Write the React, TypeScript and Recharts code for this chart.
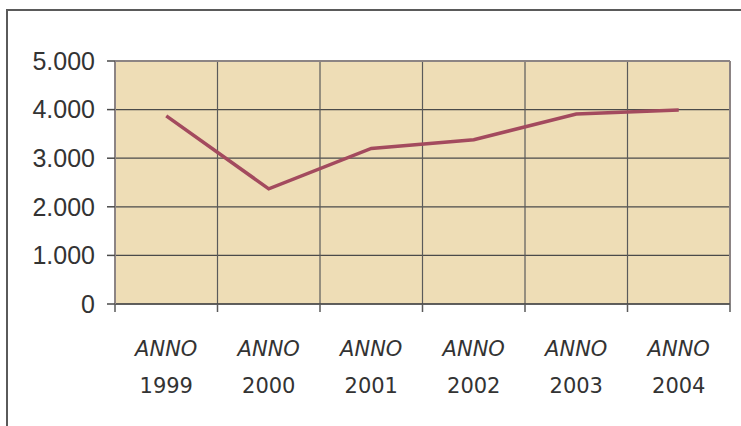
import React from "react";
import { ComposedChart, Line, XAxis, YAxis, CartesianGrid, ReferenceLine } from "recharts";

const categories = ["ANNO 1999", "ANNO 2000", "ANNO 2001", "ANNO 2002", "ANNO 2003", "ANNO 2004"];
const values = [3870, 2370, 3200, 3380, 3910, 3990];
const yTicks = [0, 1000, 2000, 3000, 4000, 5000];
const boundaries = [1, 2, 3, 4, 5];

const data = categories.map((c, i) => ({ name: c, pos: i + 0.5, value: values[i] }));
const xTicks: number[] = [];
for (let i = 0; i <= categories.length * 2; i++) xTicks.push(i / 2);

const fmt = (v: number) => v.toLocaleString("de-DE");

const XTick = (props: any) => {
  const { x, y, payload } = props;
  const v = payload.value as number;
  if (Number.isInteger(v)) {
    return <line x1={x} x2={x} y1={y} y2={y + 8} stroke="#5a5a5a" strokeWidth={1.5} />;
  }
  const label = categories[Math.floor(v)] || "";
  const [w1, w2] = label.split(" ");
  return (
    <g>
      <text x={x} y={y + 52} textAnchor="middle" fill="#333" fontSize={21} fontStyle="italic" fontFamily="DejaVu Sans">
        {w1}
      </text>
      <text x={x} y={y + 89} textAnchor="middle" fill="#333" fontSize={21} fontFamily="DejaVu Sans">
        {w2}
      </text>
    </g>
  );
};

export default function App() {
  return (
    <div style={{ position: "absolute", left: 0, top: 0, width: 741, height: 426, overflow: "hidden", background: "#fff" }}>
      <div style={{ position: "absolute", left: 6, top: 9, width: 780, height: 460, border: "2px solid #5a5a5a" }} />
      <div style={{ position: "absolute", left: 0, top: 0 }}>
        <ComposedChart width={741} height={426} data={data} margin={{ top: 61, right: 11, left: 0, bottom: 0 }}>
          <defs>
            <filter id="parch" x="0" y="0" width="100%" height="100%">
              <feTurbulence type="fractalNoise" baseFrequency="0.035" numOctaves={3} seed={4} result="n" />
              <feColorMatrix in="n" type="matrix"
                values="0 0 0 0 0.93  0 0 0 0 0.86  0 0 0 0 0.70  0 0 0 0.35 0" result="c" />
              <feComposite in="c" in2="SourceGraphic" operator="over" />
            </filter>
          </defs>
          <CartesianGrid vertical={false} stroke="#4a4a4a" strokeWidth={1.2} fill="#EEDDB6" />
          <XAxis
            dataKey="pos"
            type="number"
            domain={[0, 6]}
            ticks={xTicks}
            interval={0}
            height={122}
            tickLine={false}
            tickSize={0}
            tickMargin={0}
            axisLine={{ stroke: "#4a4a4a", strokeWidth: 1.5 }}
            tick={<XTick />}
          />
          <YAxis
            domain={[0, 5000]}
            ticks={yTicks}
            interval={0}
            width={115}
            tickFormatter={fmt}
            tickSize={8}
            tickMargin={12}
            tickLine={{ stroke: "#4a4a4a", strokeWidth: 1.5 }}
            axisLine={{ stroke: "#8c8484", strokeWidth: 2 }}
            tick={{ fill: "#333", fontSize: 25, fontFamily: "Liberation Sans" }}
          />
          {boundaries.map((b) => (
            <ReferenceLine key={b} x={b} stroke="#5a5a5a" strokeWidth={1.2} />
          ))}
          <ReferenceLine x={6} stroke="#8c8484" strokeWidth={2} />
          <ReferenceLine y={5000} stroke="#8c8484" strokeWidth={2} />
          <Line
            dataKey="value"
            stroke="#A34A5E"
            strokeWidth={3.5}
            dot={false}
            activeDot={false}
            isAnimationActive={false}
          />
        </ComposedChart>
      </div>
    </div>
  );
}
